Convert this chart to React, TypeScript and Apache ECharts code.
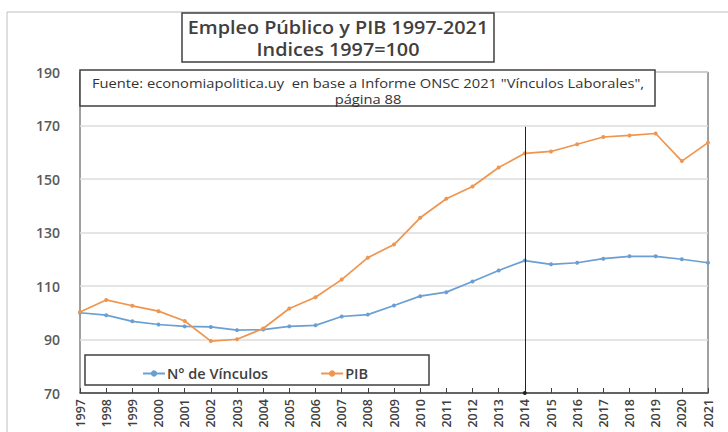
import React, { useEffect, useRef } from "react";
import * as echarts from "echarts";

const years = ["1997","1998","1999","2000","2001","2002","2003","2004","2005","2006","2007","2008","2009","2010","2011","2012","2013","2014","2015","2016","2017","2018","2019","2020","2021"];
const vinculos = [100, 99.1, 96.8, 95.6, 94.9, 94.7, 93.5, 93.7, 94.9, 95.3, 98.6, 99.3, 102.7, 106.2, 107.7, 111.7, 115.8, 119.5, 118.1, 118.7, 120.2, 121.1, 121.1, 120.0, 118.7];
const pib = [100.3, 104.8, 102.6, 100.6, 96.9, 89.4, 90.1, 94.1, 101.6, 105.8, 112.4, 120.6, 125.5, 135.5, 142.6, 147.2, 154.3, 159.6, 160.3, 163.0, 165.7, 166.3, 167.0, 156.7, 163.6];
const seriesNames = ["N° de Vínculos", "PIB"];
const markYear = "2014";
const markTop = 169.5;
const titleLines = ["Empleo Público y PIB 1997-2021", "Indices 1997=100"];
const sourceLines = ["Fuente: economiapolitica.uy  en base a Informe ONSC 2021 \"Vínculos Laborales\",", "página 88"];

const BLUE = "#6a9fd3";
const ORANGE = "#ee9550";
const FONT = "'Open Sans', Lato, sans-serif";

export default function App() {
  const ref = useRef<HTMLDivElement>(null);
  useEffect(() => {
    if (!ref.current) return;
    const chart = echarts.init(ref.current, null, { renderer: "svg" });
    chart.setOption({
      animation: false,
      backgroundColor: "#ffffff",
      textStyle: { fontFamily: FONT },
      grid: { left: 80, right: 20, top: 72, bottom: 39, containLabel: false, show: true, borderColor: "#404040", borderWidth: 1 },
      xAxis: {
        type: "category",
        data: years,
        boundaryGap: false,
        axisLine: { lineStyle: { color: "#404040", width: 1.5 } },
        axisTick: { inside: true, length: 5, lineStyle: { color: "#404040" } },
        axisLabel: { rotate: 90, fontSize: 12.5, fontWeight: 600, color: "#404040", margin: 6, fontFamily: FONT },
        splitLine: { show: false },
      },
      yAxis: {
        type: "value",
        min: 70,
        max: 190,
        interval: 20,
        axisLine: { show: false },
        axisTick: { show: false },
        axisLabel: { fontSize: 14, fontWeight: 600, color: "#595959", margin: 20, fontFamily: FONT },
        splitLine: { lineStyle: { color: "#dcdcdc", width: 1.5 } },
      },
      legend: {
        left: 137,
        top: 361,
        itemWidth: 22,
        itemHeight: 8,
        itemGap: 52,
        textStyle: { fontSize: 14.5, fontWeight: 600, color: "#404040", fontFamily: FONT, padding: [0, 0, 0, -3] },
        data: seriesNames,
        z: 10,
      },
      series: [
        {
          name: seriesNames[0],
          type: "line",
          data: vinculos,
          symbol: "circle",
          symbolSize: 4,
          lineStyle: { color: BLUE, width: 1.7 },
          itemStyle: { color: BLUE },
          z: 3,
          markLine: {
            silent: true,
            symbol: ["none", "circle"],
            symbolSize: 4,
            label: { show: false },
            lineStyle: { color: "#222222", width: 1, type: "solid" },
            data: [[{ coord: [markYear, markTop] }, { coord: [markYear, 70] }]],
          },
        },
        {
          name: seriesNames[1],
          type: "line",
          data: pib,
          symbol: "circle",
          symbolSize: 4,
          lineStyle: { color: ORANGE, width: 1.7 },
          itemStyle: { color: ORANGE },
          z: 4,
        },
      ],
      graphic: [
        { type: "rect", shape: { x: 7, y: 12, width: 740, height: 440 }, style: { fill: "none", stroke: "#bfbfbf", lineWidth: 1 }, z: 0, silent: true },
        { type: "rect", shape: { x: 182, y: 13, width: 312, height: 49 }, style: { fill: "#fff", stroke: "#404040", lineWidth: 1.5 }, z: 5 },
        { type: "text", x: 338, y: 27, scaleX: 1.1, style: { text: titleLines[0], fontSize: 18, fontWeight: 600, fill: "#404040", align: "center", verticalAlign: "middle", fontFamily: FONT }, z: 6 },
        { type: "text", x: 338, y: 49, scaleX: 1.1, style: { text: titleLines[1], fontSize: 18, fontWeight: 600, fill: "#404040", align: "center", verticalAlign: "middle", fontFamily: FONT }, z: 6 },
        { type: "rect", shape: { x: 80, y: 70, width: 575, height: 36 }, style: { fill: "#fff", stroke: "#404040", lineWidth: 1.5 }, z: 5 },
        { type: "text", x: 368, y: 83, scaleX: 1.09, style: { text: sourceLines[0], fontSize: 13.5, fill: "#333", align: "center", verticalAlign: "middle", fontFamily: FONT }, z: 6 },
        { type: "text", x: 368, y: 99, scaleX: 1.09, style: { text: sourceLines[1], fontSize: 13.5, fill: "#333", align: "center", verticalAlign: "middle", fontFamily: FONT }, z: 6 },
        { type: "rect", shape: { x: 85, y: 355, width: 344, height: 30 }, style: { fill: "#fff", stroke: "#404040", lineWidth: 1.5 }, z: 5 },
      ],
    });
    return () => chart.dispose();
  }, []);
  return <div ref={ref} style={{ position: "fixed", left: 0, top: 0, width: 728, height: 432 }} />;
}
